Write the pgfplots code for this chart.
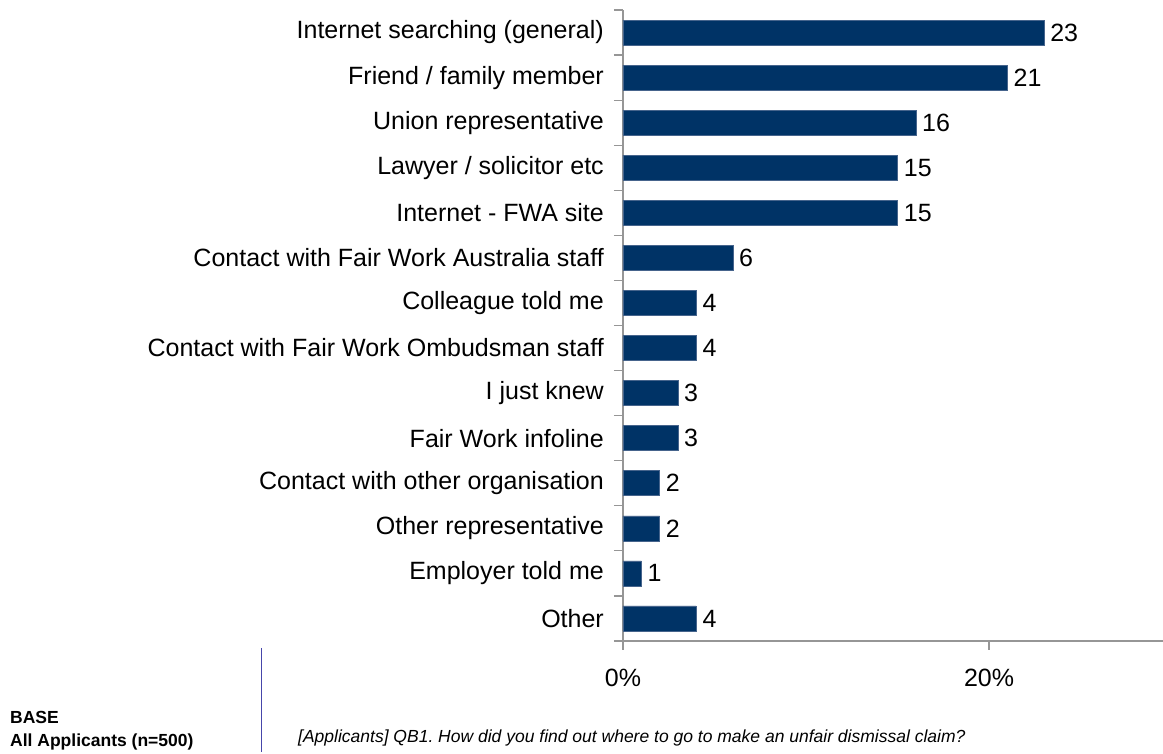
\documentclass[border=0pt]{standalone}
\usepackage{fontspec}
\setmainfont{Liberation Sans}
\usepackage{pgfplots}
\pgfplotsset{compat=1.18}
\definecolor{barblue}{RGB}{0,51,102}
\definecolor{baredge}{RGB}{70,100,140}
\definecolor{axisgray}{RGB}{150,150,150}
\definecolor{lineblue}{RGB}{70,70,170}
\newcommand{\lbl}{\fontsize{25}{30}\selectfont}
\newcommand{\sml}{\fontsize{17.5}{21}\selectfont}
\frenchspacing
\begin{document}
\frenchspacing
\begin{tikzpicture}[x=1pt,y=1pt]
\useasboundingbox (-623,-113) rectangle (540,641);
\begin{axis}[
  at={(0,0)}, anchor=south west,
  scale only axis, width=540pt, height=631pt,
  xmin=0, xmax=29.5, ymin=-0.5, ymax=13.5,
  xbar, bar width=0.555,
  axis x line*=bottom, axis y line*=left,
  axis line style={axisgray, line width=1.2pt},
  tick align=outside, major tick length=9pt,
  tick style={axisgray, line width=1.2pt},
  /pgf/number format/assume math mode=true,
  xtick={0,20}, xticklabels={0\%,20\%},
  x tick label style={font=\lbl, inner sep=0pt, yshift=-19pt},
  ytick={-0.5,0.5,...,13.5}, yticklabels={},
  extra y ticks={0,1,2,3,4,5,6,7,8,9,10,11,12,13},
  extra y tick labels={Other,Employer told me,Other representative,Contact with other organisation,Fair Work infoline,I just knew,Contact with Fair Work Ombudsman staff,Colleague told me,Contact with Fair Work Australia staff,Internet - FWA site,Lawyer / solicitor etc,Union representative,Friend / family member,Internet searching (general)},
  extra y tick style={major tick length=0pt, y tick label style={font=\lbl, inner sep=0pt, anchor=east, xshift=-19pt}},
  nodes near coords,
  every node near coord/.append style={font=\lbl, inner sep=0pt, anchor=west, xshift=6pt, black},
]
\addplot[fill=barblue, draw=baredge, line width=0.6pt] coordinates {
(4,0) (1,1) (2,2) (2,3) (3,4) (3,5) (4,6) (4,7) (6,8) (15,9) (15,10) (16,11) (21,12) (23,13)};
\end{axis}
\node[anchor=west, inner sep=0pt, font=\sml\bfseries] at (-613,-76) {BASE};
\node[anchor=west, inner sep=0pt, font=\sml\bfseries] at (-613,-101) {All Applicants (n=500)};
\draw[lineblue, line width=1pt] (-361,-7) -- (-361,-111);
\node[anchor=west, inner sep=0pt, font=\sml\itshape] at (-325,-97) {[Applicants] QB1. How did you find out where to go to make an unfair dismissal claim?};
\end{tikzpicture}
\end{document}
